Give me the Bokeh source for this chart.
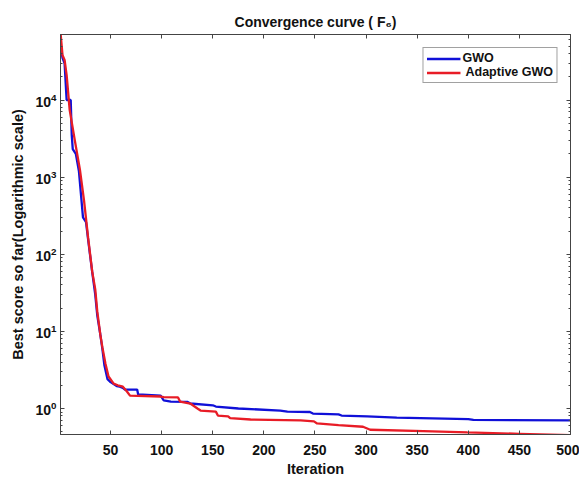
from bokeh.plotting import figure
from bokeh.models import (Range1d, LogAxis, LinearAxis, FixedTicker, LogTicker,
                          CustomJSTickFormatter, Legend, LegendItem)
from bokeh.embed import file_html
from bokeh.resources import INLINE

# ---- data ----
gwo_iter = [1, 3, 5, 7, 11, 12, 13, 16, 19, 23, 26, 28, 32, 35, 37, 40, 42, 44, 47, 50,
            56, 59, 62, 64, 76, 77, 99, 102, 109, 125, 128, 150, 153, 175, 216, 223, 245,
            248, 273, 276, 301, 330, 400, 405, 500]
gwo_best = [5e4, 3.5e4, 3.0e4, 1.0e4, 1.0e4, 3.5e3, 2.3e3, 2.0e3, 1.2e3, 300, 260, 156, 59,
            30, 16, 9, 5.9, 3.6, 2.4, 2.2, 1.95, 1.92, 1.85, 1.76, 1.76, 1.52, 1.47, 1.27,
            1.23, 1.22, 1.16, 1.1, 1.06, 1.0, 0.94, 0.91, 0.9, 0.86, 0.84, 0.81, 0.79, 0.76,
            0.73, 0.71, 0.70]

agwo_iter = [1, 3, 5, 7, 10, 15, 20, 24, 28, 32, 35, 37, 40, 42, 45, 48, 53, 57, 62, 66,
             69, 99, 102, 116, 118, 128, 135, 138, 153, 155, 165, 167, 187, 236, 249, 252,
             273, 297, 304, 356, 399, 450, 500]
agwo_best = [7.5e4, 3.8e4, 3.3e4, 2.1e4, 7.4e3, 3.0e3, 1.25e3, 500, 165, 60, 35, 18, 9,
             6.2, 3.8, 2.6, 2.1, 2.0, 1.92, 1.66, 1.47, 1.43, 1.4, 1.39, 1.23, 1.16, 1.0,
             0.94, 0.91, 0.81, 0.79, 0.75, 0.72, 0.70, 0.68, 0.64, 0.61, 0.58, 0.53, 0.51,
             0.49, 0.47, 0.45]

x_ticks = [50, 100, 150, 200, 250, 300, 350, 400, 450, 500]
series_names = ["GWO", " Adaptive GWO"]
title_text = "Convergence curve ( F\u2086)"
x_label = "Iteration"
y_label = "Best score so far(Logarithmic scale)"

FONT = "Liberation Sans"
BLUE = "#1010d8"
RED = "#e81c26"
INK = "#111111"

p = figure(width=579, height=479, output_backend="svg", toolbar_location=None,
           y_axis_type="log", x_range=Range1d(1, 500), y_range=Range1d(0.46, 7.07e4),
           min_border_left=60, min_border_right=9, min_border_top=34, min_border_bottom=42)
p.background_fill_color = "white"
p.border_fill_color = "white"
p.outline_line_color = "#444444"
p.outline_line_width = 1
p.xgrid.visible = False
p.ygrid.visible = False

p.title.text = title_text
p.title.align = "center"
p.title.text_font = FONT
p.title.text_font_style = "bold"
p.title.text_font_size = "14px"
p.title.text_color = INK
p.title.offset = 0
p.title.standoff = 10

l1 = p.line(gwo_iter, gwo_best, line_color=BLUE, line_width=2.3)
l2 = p.line(agwo_iter, agwo_best, line_color=RED, line_width=2.3)

def style_axis(ax):
    ax.axis_line_color = "#444444"
    ax.major_tick_in = 4
    ax.major_tick_out = 0
    ax.minor_tick_in = 2
    ax.minor_tick_out = 0
    ax.major_tick_line_color = "#444444"
    ax.minor_tick_line_color = "#444444"
    ax.major_label_text_font = FONT
    ax.major_label_text_font_style = "bold"
    ax.major_label_text_font_size = "14px"
    ax.major_label_text_color = INK
    ax.axis_label_text_font = FONT
    ax.axis_label_text_font_style = "bold"
    ax.axis_label_text_font_size = "14.5px"
    ax.axis_label_text_color = INK

xa = p.xaxis[0]
style_axis(xa)
xa.ticker = FixedTicker(ticks=x_ticks)
xa.minor_tick_line_color = None
xa.axis_label = x_label
xa.major_label_standoff = 10
xa.axis_label_standoff = 3

ya = p.yaxis[0]
style_axis(ya)
ya.ticker = LogTicker(num_minor_ticks=10)
ya.axis_label = y_label
ya.major_label_standoff = 4
ya.axis_label_standoff = 6

blank = CustomJSTickFormatter(code="return ''")
top = LinearAxis(ticker=FixedTicker(ticks=x_ticks), formatter=blank)
style_axis(top)
top.minor_tick_line_color = None
top.major_label_standoff = 0
p.add_layout(top, "above")

right = LogAxis(ticker=LogTicker(num_minor_ticks=10), formatter=blank)
style_axis(right)
right.major_label_standoff = 0
p.add_layout(right, "right")

legend = Legend(items=[LegendItem(label=series_names[0], renderers=[l1]),
                       LegendItem(label=series_names[1], renderers=[l2])],
                location="top_right")
legend.label_text_font = FONT
legend.label_text_font_style = "bold"
legend.label_text_font_size = "12.5px"
legend.label_text_color = INK
legend.glyph_width = 34
legend.glyph_height = 11
legend.label_height = 11
legend.spacing = 0
legend.padding = 3
legend.margin = 13
legend.label_standoff = 2
legend.border_line_color = "#444444"
legend.border_line_width = 1
legend.background_fill_alpha = 1
p.add_layout(legend)

open("out.html", "w").write(file_html(p, INLINE))
